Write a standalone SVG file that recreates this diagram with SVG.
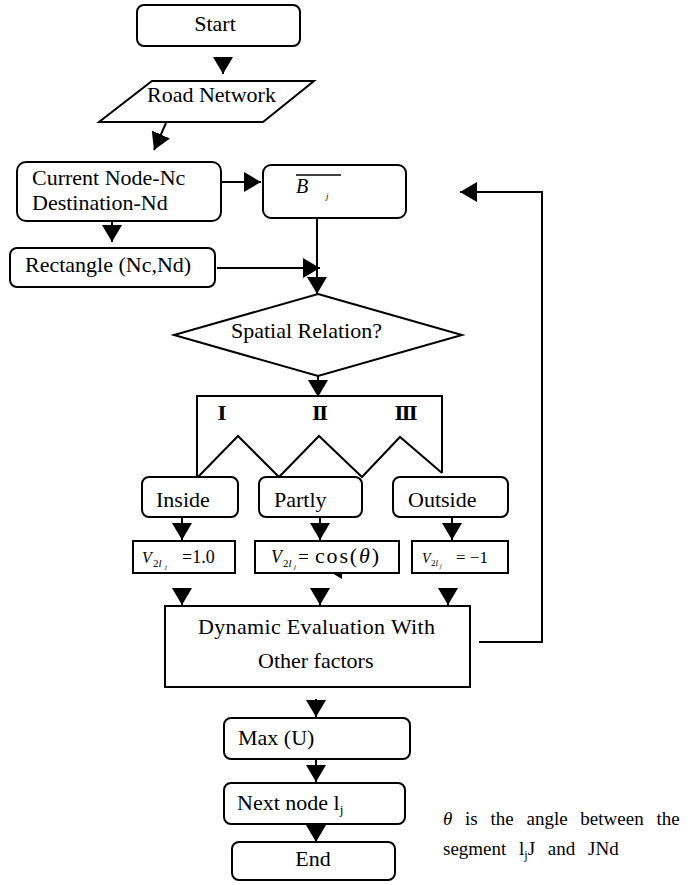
<svg xmlns="http://www.w3.org/2000/svg" width="693" height="885" viewBox="0 0 693 885">
<style>
.box{fill:#fff;stroke:#000;stroke-width:2}
.ln{fill:none;stroke:#000;stroke-width:2}
.t{font-family:"Liberation Serif","Times New Roman",serif;font-size:22px;fill:#000}
.m{font-family:"Liberation Serif","Times New Roman",serif;fill:#000}
.r{font-family:"DejaVu Serif","Liberation Serif",serif;font-size:19px;font-weight:bold;fill:#000;text-anchor:middle}
.i{font-style:italic}
.c{text-anchor:middle}
</style>
<defs>
<marker id="ah" markerUnits="userSpaceOnUse" markerWidth="18" markerHeight="20" refX="17" refY="10" orient="auto">
<path d="M0,0 L17,10 L0,20 Z" fill="#000"/>
</marker>
</defs>
<rect width="693" height="885" fill="#fff"/>

<g id="connectors">
<path class="ln" d="M223,57 L223,74" marker-end="url(#ah)"/>
<path class="ln" d="M166,123 L154,150" marker-end="url(#ah)"/>
<path class="ln" d="M198,182 L261,182" marker-end="url(#ah)"/>
<path class="ln" d="M112,222 L112,242" marker-end="url(#ah)"/>
<path class="ln" d="M317,218 L317,294" marker-end="url(#ah)"/>
<path class="ln" d="M217,268 L320,268" marker-end="url(#ah)"/>
<path class="ln" d="M318,376 L318,397" marker-end="url(#ah)"/>
<path class="ln" d="M197,478 L197,396 L442,396 L442,473"/>
<path class="ln" d="M197,478 L238,436 L279,477 L319,436 L362,477 L400,437 L442,473"/>
<path class="ln" d="M182,518 L182,540" marker-end="url(#ah)"/>
<path class="ln" d="M320,518 L320,540" marker-end="url(#ah)"/>
<path class="ln" d="M452,518 L452,540" marker-end="url(#ah)"/>
<path class="ln" d="M182,588 L182,605" marker-end="url(#ah)"/>
<path class="ln" d="M320,588 L320,605" marker-end="url(#ah)"/>
<path class="ln" d="M448,588 L448,605" marker-end="url(#ah)"/>
<path class="ln" d="M316,699 L316,717" marker-end="url(#ah)"/>
<path class="ln" d="M316,760 L316,782" marker-end="url(#ah)"/>
<path class="ln" d="M316,825 L316,842" marker-end="url(#ah)"/>
<path class="ln" d="M479,642 L542,642 L542,192 L460,192" marker-end="url(#ah)"/>
</g>

<g id="start">
<rect class="box" x="137" y="5" width="163" height="41" rx="7"/>
<text class="t c" x="215" y="31">Start</text>
</g>

<g id="road-network">
<polygon class="box" points="152,81 314,81 263,122 99,122"/>
<text class="t" x="147" y="102">Road Network</text>
</g>

<g id="current-node">
<rect class="box" x="17" y="162" width="204" height="59" rx="9"/>
<text class="t" x="32" y="185">Current Node-Nc</text>
<text class="t" x="32" y="210">Destination-Nd</text>
</g>

<g id="b-j">
<rect class="box" x="263" y="165" width="143" height="53" rx="8"/>
<line x1="296" y1="175" x2="341" y2="175" stroke="#000" stroke-width="1.5"/>
<text class="m i" x="296" y="193" font-size="20">B</text>
<text class="m i" x="326" y="199" font-size="9">j</text>
</g>

<g id="rectangle">
<rect class="box" x="10" y="248" width="205" height="39" rx="7"/>
<text class="t" x="25" y="272">Rectangle (Nc,Nd)</text>
</g>

<g id="spatial-relation">
<polygon class="box" points="318,294 462,335 318,376 174,335"/>
<text class="t" x="231" y="338">Spatial Relation?</text>
</g>

<g id="labels">
<text class="r" x="222" y="420">I</text>
<text class="r" x="320" y="420">Ⅱ</text>
<text class="r" x="406" y="420">Ⅲ</text>
</g>

<g id="inside">
<rect class="box" x="142" y="477" width="96" height="40" rx="7"/>
<text class="t" x="156" y="507">Inside</text>
</g>
<g id="partly">
<rect class="box" x="259" y="477" width="103" height="40" rx="7"/>
<text class="t" x="274" y="507">Partly</text>
</g>
<g id="outside">
<rect class="box" x="393" y="477" width="115" height="40" rx="7"/>
<text class="t" x="408" y="507">Outside</text>
</g>

<g id="v-inside">
<rect class="box" x="133" y="541" width="102" height="32"/>
<text class="m i" x="142" y="563" font-size="16">V</text>
<text class="m" x="153" y="567" font-size="11">2<tspan font-style="italic">l</tspan></text>
<text class="m i" x="165" y="569" font-size="7">j</text>
<text class="m" x="182" y="563" font-size="18">=1.0</text>
</g>

<g id="v-partly">
<rect class="box" x="255" y="541" width="144" height="32"/>
<text class="m i" x="271" y="563" font-size="18">V</text>
<text class="m" x="283" y="567" font-size="11">2<tspan font-style="italic">l</tspan></text>
<text class="m i" x="294" y="569" font-size="7">j</text>
<text class="m" x="298" y="563" font-size="19">=</text>
<text class="m" x="315" y="563" font-size="22" textLength="64">cos(<tspan font-style="italic">θ</tspan>)</text>
<polygon points="332,573 342,573 342,579" fill="#000"/>
</g>

<g id="v-outside">
<rect class="box" x="412" y="541" width="96" height="32"/>
<text class="m i" x="422" y="563" font-size="14">V</text>
<text class="m" x="431" y="566" font-size="9">2<tspan font-style="italic">l</tspan></text>
<text class="m i" x="440" y="568" font-size="6">j</text>
<text class="m" x="456" y="563" font-size="17">= −1</text>
</g>

<g id="dynamic-evaluation">
<rect class="box" x="165" y="606" width="305" height="81"/>
<text class="t" x="198" y="634" textLength="237">Dynamic Evaluation With</text>
<text class="t" x="258" y="668">Other factors</text>
</g>

<g id="max-u">
<rect class="box" x="224" y="718" width="186" height="41" rx="7"/>
<text class="t" x="238" y="745">Max (U)</text>
</g>

<g id="next-node">
<rect class="box" x="224" y="783" width="181" height="41" rx="7"/>
<text class="t" x="237" y="810">Next node l<tspan font-size="13" dy="4">j</tspan></text>
</g>

<g id="end">
<rect class="box" x="232" y="842" width="163" height="38" rx="7"/>
<text class="t c" x="313" y="866">End</text>
</g>

<g id="note">
<text class="m" x="443" y="825" font-size="19" word-spacing="8"><tspan font-style="italic">θ</tspan> is the angle between the</text>
<text class="m" x="443" y="855" font-size="19" word-spacing="8">segment l<tspan font-size="12" dy="4">j</tspan><tspan dy="-4">J and JNd</tspan></text>
</g>
</svg>
